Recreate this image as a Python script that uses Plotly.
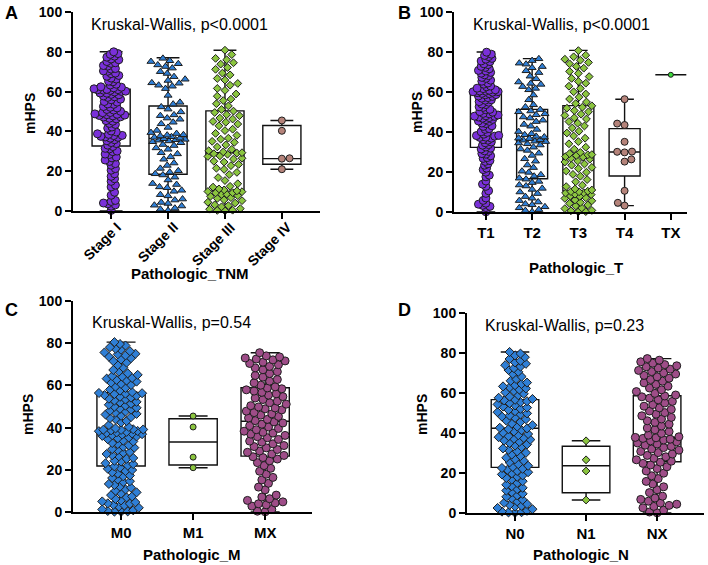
import numpy as np
import plotly.graph_objects as go

W, H = 708, 565
FONT = "Liberation Sans, Arial, sans-serif"

# ---- panel A: Pathologic_TNM ----
tnm_cats = ["Stage I", "Stage II", "Stage III", "Stage IV"]
stage1 = [0.3, 2.4, 3.1, 3.6, 4.0, 4.8, 5.3, 7.9, 9.4, 12.1, 13.0, 14.9, 16.2, 17.4, 18.7, 20.5, 21.3, 23.0, 23.8, 24.9,
          25.6, 26.7, 27.1, 28.4, 28.6, 29.8, 30.1, 31.2, 31.5, 32.4,
          33.1, 33.9, 34.4, 35.3, 35.8, 36.6, 37.0, 37.2, 37.5, 37.9, 38.0, 38.5, 38.8, 39.7, 40.2, 41.6, 42.2, 43.5,
          44.0, 45.1, 45.4, 46.3, 46.6, 47.2, 47.3, 47.8, 48.0, 48.2, 48.4, 48.6,
          48.8, 49.4, 49.5, 50.1, 50.7, 51.0, 51.8, 52.1, 52.5, 53.6, 53.8, 54.7, 55.0, 55.9, 56.2, 57.1, 57.4, 57.8,
          58.4, 58.6, 59.2, 59.3, 59.8, 60.1, 60.2, 60.6, 60.7, 60.9, 61.0, 61.1,
          61.4, 61.9, 62.2, 62.4, 63.3, 63.7, 64.9, 65.2, 66.3, 66.8, 67.7, 68.1, 69.0, 69.3, 70.2, 70.4, 71.3, 71.6,
          72.8, 73.1, 74.2, 74.5, 75.1, 76.0, 76.4, 77.3, 77.8, 78.7, 79.1, 80.0]
stage2 = [0.2, 0.9, 1.4, 2.5, 2.9, 3.8, 4.3, 5.5, 6.0, 7.6, 8.2, 9.9, 10.4, 11.7, 12.1, 13.3, 13.8, 15.6, 17.0, 18.1,
          18.7, 19.5, 20.2, 21.4, 22.9, 24.1, 26.0, 27.2, 28.7, 29.3, 31.0, 31.7, 32.9, 33.4, 34.3, 34.8, 35.2, 35.6,
          35.8, 36.0, 36.3, 36.6, 37.0, 37.3, 37.7, 38.1, 38.3, 38.9, 39.4, 40.5, 42.0, 43.8, 44.6, 46.1, 46.7, 47.9,
          48.3, 49.8, 51.2, 52.3, 53.7, 54.6, 58.1, 61.5, 62.7, 63.2, 64.2, 64.4, 65.6, 66.2, 67.5, 69.1, 70.0, 71.8,
          72.6, 73.4, 74.0, 75.1, 75.5, 76.7]
stage3 = [0.1, 0.3, 0.4, 0.9, 1.2, 2.1, 2.7, 3.1, 4.0, 4.4, 5.2, 5.6, 6.3, 6.7, 7.4, 7.7, 8.3, 8.5, 9.1, 9.2, 9.7, 9.8,
          10.1, 10.6, 11.1, 12.0, 12.4, 13.7, 15.3, 16.8, 18.3, 19.4, 20.9, 21.5, 22.8, 23.4, 24.6, 25.0, 26.1, 26.5,
          27.4, 27.7, 28.5, 28.8, 29.1, 29.3, 29.7, 30.3, 31.0, 32.2, 33.2, 34.5, 35.0, 36.1, 36.6, 38.0, 39.0, 40.4,
          41.1, 42.8, 43.7, 44.6, 45.0, 46.2, 46.7, 47.9, 48.4, 49.5, 50.2, 51.0, 52.8, 53.9, 55.5, 56.2, 57.7, 58.8,
          60.6, 61.6, 63.2, 64.1, 65.8, 66.6, 68.4, 69.3, 71.2, 72.1, 73.8, 74.5, 76.0, 76.7, 78.6, 80.8]
stage4 = [45.5, 40.3, 26.3, 26.5, 21.0]
tnm_q1 = [32.7, 18.5, 10.0, 23.5]
tnm_med = [48.7, 36.5, 29.3, 26.3]
tnm_q3 = [61.2, 52.8, 50.3, 43.0]
tnm_lo = [0.0, 0.0, 0.0, 21.0]
tnm_hi = [80.0, 77.0, 80.8, 45.5]

# ---- panel B: Pathologic_T ----
t_cats = ["T1", "T2", "T3", "T4", "TX"]
t1 = [0.1, 2.2, 2.8, 3.3, 3.9, 4.4, 5.8, 7.0, 9.3, 10.6, 12.8, 13.9, 15.5, 17.6, 18.4, 19.9, 21.2, 21.9, 23.4, 24.1,
      25.3, 25.7, 26.8, 27.2, 28.1, 28.9, 29.2, 30.3, 30.6, 31.5, 31.9,
      32.5, 33.4, 33.7, 34.6, 35.0, 35.9, 36.2, 36.9, 37.3, 37.4, 37.9, 38.2, 38.3, 38.9, 39.8, 40.1, 41.3, 41.7,
      42.8, 43.1, 44.2, 44.5, 45.3, 45.5, 46.2, 46.3, 46.9, 47.2, 47.5, 47.8, 47.9,
      48.1, 48.5, 49.1, 49.3, 49.9, 50.2, 51.1, 51.3, 52.3, 52.6, 53.7, 54.0, 54.9, 55.2, 55.9, 56.1, 56.9, 57.2,
      57.8, 58.0, 58.6, 58.7, 59.2, 59.3, 59.7, 59.9, 60.1, 60.2, 60.4, 60.5,
      60.9, 61.1, 61.7, 61.9, 62.6, 63.0, 63.9, 64.5, 65.4, 65.9, 66.8, 67.3, 68.2, 68.6, 69.4, 69.8, 70.5, 70.8,
      71.6, 72.3, 72.8, 73.7, 74.1, 75.2, 75.5, 76.4, 76.8, 77.7, 78.3, 78.9, 79.9]
t2 = [0.1, 0.7, 1.2, 2.1, 2.6, 3.6, 4.0, 5.0, 5.7, 6.9, 7.7, 9.2, 10.0, 11.3, 11.8, 13.0, 13.5, 14.7, 15.3, 16.4,
      16.9, 17.9, 18.6, 19.8, 20.4, 22.2, 23.5, 25.4, 26.6, 28.3, 29.4, 30.8, 31.5, 32.4, 33.5, 34.1, 34.5, 35.2,
      35.4, 35.9, 36.1, 36.7, 36.9, 37.5, 37.8, 38.6, 39.1, 40.2, 41.3, 42.9, 43.8, 45.2, 45.9, 47.0, 47.5, 48.6,
      49.1, 50.1, 50.5, 51.2, 52.5, 53.6, 56.1, 58.5, 61.1, 61.8, 62.7, 63.8, 64.3, 65.0, 66.6, 67.9, 69.7, 70.6,
      72.1, 72.7, 73.9, 74.4, 75.7, 76.6]
t3 = [0.1, 0.2, 0.6, 0.8, 1.7, 2.0, 3.0, 3.5, 4.3, 4.8, 5.6, 6.0, 6.8, 7.1, 7.8, 8.0, 8.7, 8.9, 9.5, 9.6, 10.1,
      10.2, 10.4, 11.0, 11.5, 12.7, 13.4, 15.1, 16.2, 17.9, 18.8, 19.9, 20.5, 21.7, 22.3, 23.4, 24.0, 25.0, 25.5,
      26.4, 26.8, 27.5, 27.7, 28.3, 28.6, 28.7, 29.2, 29.8, 31.4, 32.4, 34.1, 35.2, 36.9, 38.0, 39.5, 40.4, 42.0,
      43.0, 44.4, 45.2, 46.5, 47.1, 48.3, 48.9, 50.1, 50.7, 51.9, 52.4, 53.1, 54.2, 55.0, 56.5, 57.4, 59.0, 60.1,
      61.8, 62.9, 64.4, 65.3, 66.8, 67.7, 69.3, 70.3, 71.9, 72.8, 74.1, 74.8, 75.9, 76.4, 77.6, 78.4, 80.7]
t4 = [56.4, 44.2, 43.5, 35.1, 30.2, 30.1, 29.8, 26.3, 25.2, 10.6, 4.6, 3.2]
tx = [68.6]
t_q1 = [32.3, 16.6, 10.5, 18.0, 68.6]
t_med = [48.0, 36.0, 28.8, 30.0, 68.6]
t_q3 = [60.6, 51.3, 53.2, 41.7, 68.6]
t_lo = [0.0, 0.0, 0.0, 3.2, 68.6]
t_hi = [80.0, 76.7, 80.8, 56.4, 68.6]

# ---- panel C: Pathologic_M ----
m_cats = ["M0", "M1", "MX"]
m0 = [0.1, 0.2, 0.3, 0.5, 0.8, 1.2, 2.0, 2.6, 3.1, 3.4, 3.9, 4.1, 4.6, 5.0, 5.5, 6.2, 6.9, 7.4, 8.0, 8.7, 9.3,
      10.1, 10.7, 11.5, 12.0, 12.8, 13.3, 14.2, 14.6, 15.4, 16.1, 16.9, 17.3, 18.2, 18.8, 19.4, 19.9, 20.5, 21.0,
      21.6, 22.0, 22.7, 23.1, 23.9, 24.3, 25.2, 25.6, 26.4, 26.9, 27.5, 28.1, 28.4, 29.3, 29.8, 30.5, 30.9, 31.6,
      32.2, 32.7, 33.4, 33.8, 34.5, 34.9, 35.3, 35.8, 36.1, 36.4, 36.7, 36.9, 37.2, 37.5, 37.7, 38.0, 38.3, 38.4,
      38.7, 38.9, 39.0, 39.1, 39.2, 39.6, 40.3, 41.2, 42.4, 43.1, 43.9, 44.5, 45.0, 45.6, 46.2, 46.5, 47.1, 47.6,
      48.0, 48.5, 48.9, 49.4, 49.9, 50.4, 50.8, 51.3, 51.9, 52.2, 52.8, 53.3, 53.7, 54.2, 54.6, 55.1, 55.4, 55.9,
      56.1, 56.3, 56.4, 56.8, 57.5, 58.0, 58.8, 59.4, 60.2, 60.7, 61.3, 61.8, 62.3, 62.6, 63.2, 63.5, 64.1, 64.4,
      65.0, 65.7, 66.5, 67.3, 68.4, 69.6, 70.8, 71.5, 72.3, 72.9, 73.6, 74.2, 74.7, 75.0, 75.6, 76.2, 76.9, 77.4,
      78.1, 78.9, 79.6, 80.5]
m1 = [45.5, 40.3, 26.0, 21.0]
mx = [0.1, 0.4, 1.2, 2.8, 3.4, 3.9, 4.3, 4.8, 5.5, 6.3, 7.1, 8.0, 10.5, 11.8, 13.6, 15.2, 16.4, 17.9, 19.3, 20.7,
      22.0, 23.4, 24.3, 25.1, 25.8, 26.2, 26.8, 27.5, 28.3, 28.9, 29.6, 30.4, 31.0, 31.5, 32.3, 33.1, 33.6, 34.4,
      35.2, 35.7, 36.3, 36.9, 37.4, 37.8, 38.3, 39.0, 39.6, 40.3, 40.9, 41.6, 42.2, 42.7, 43.3, 43.9, 44.6, 45.3,
      45.9, 46.5, 47.1, 47.8, 48.4, 48.9, 49.3, 49.8, 50.4, 51.1, 51.8, 52.5, 53.3, 54.0, 54.7, 55.4, 56.0, 56.7,
      57.3, 57.9, 58.4, 58.8, 59.3, 60.1, 61.2, 62.0, 62.8, 63.9, 64.7, 65.6, 66.5, 67.4, 68.3, 69.0, 69.8, 70.4,
      71.0, 71.6, 72.1, 72.5, 73.0, 73.5, 74.0, 75.5]
m_q1 = [21.8, 22.3, 26.5]
m_med = [39.3, 33.2, 43.0]
m_q3 = [56.5, 44.2, 58.9]
m_lo = [0.0, 21.0, 0.0]
m_hi = [80.5, 45.5, 75.5]

# ---- panel D: Pathologic_N ----
n_cats = ["N0", "N1", "NX"]
n0 = [0.1, 0.3, 0.4, 0.7, 1.1, 1.9, 2.5, 3.2, 3.6, 4.1, 4.5, 5.1, 5.8, 6.6, 7.3, 8.1, 8.8, 9.6, 10.4, 11.2, 11.9,
      12.6, 13.4, 14.1, 15.0, 15.9, 16.7, 17.5, 18.1, 18.8, 19.3, 19.8, 20.4, 21.0, 21.6, 22.1, 22.5, 23.0, 23.6,
      24.4, 25.3, 26.1, 26.9, 27.6, 28.5, 29.2, 30.1, 30.8, 31.6, 32.3, 33.0, 33.7, 34.3, 35.0, 35.6, 36.2, 36.7,
      37.1, 37.5, 37.9, 38.4, 38.9, 39.5, 40.1, 40.8, 41.4, 41.9, 42.3, 42.6, 43.2, 43.9, 44.7, 45.5, 46.2, 46.9,
      47.6, 48.2, 48.7, 49.3, 49.8, 50.4, 50.9, 51.5, 52.1, 52.7, 53.2, 53.8, 54.3, 54.9, 55.4, 55.9, 56.3, 56.6,
      57.0, 57.6, 58.2, 58.9, 59.6, 60.4, 61.0, 61.7, 62.3, 62.8, 63.3, 63.9, 64.5, 65.2, 66.1, 67.0, 68.2, 69.5,
      70.6, 71.5, 72.4, 73.2, 73.9, 74.6, 75.3, 76.1, 77.0, 77.9, 78.8, 79.7, 80.5]
n1 = [36.1, 26.6, 21.0, 6.5]
nx = [0.1, 0.5, 1.4, 2.6, 3.3, 3.8, 4.4, 5.0, 5.9, 6.8, 7.5, 8.4, 10.2, 11.6, 13.1, 14.5, 15.8, 17.2, 18.6, 19.9,
      21.0, 22.2, 23.1, 24.0, 24.8, 25.4, 25.9, 26.6, 27.4, 28.1, 28.8, 29.5, 30.2, 30.8, 31.4, 32.0, 32.7, 33.3,
      33.9, 34.5, 35.0, 35.6, 36.1, 36.5, 36.9, 37.3, 37.6, 37.8, 38.1, 38.9, 39.8, 40.7, 41.6, 42.5, 43.5, 44.4,
      45.3, 46.1, 47.0, 47.8, 48.6, 49.4, 50.2, 51.0, 51.8, 52.6, 53.4, 54.2, 55.0, 55.8, 56.6, 57.4, 58.1, 58.5,
      59.0, 59.8, 60.7, 61.6, 62.5, 63.4, 64.3, 65.1, 65.9, 66.7, 67.4, 68.1, 68.8, 69.5, 70.1, 70.7, 71.3, 71.9,
      72.5, 73.1, 73.6, 74.2, 74.9, 75.6, 76.4, 77.2]
n_q1 = [22.8, 10.1, 25.6]
n_med = [42.4, 23.6, 37.9]
n_q3 = [56.7, 33.4, 58.6]
n_lo = [0.0, 6.5, 0.0]
n_hi = [80.5, 36.1, 77.2]

PURPLE, BLUE, GREEN, BROWN, MAUVE, LIME = "#7a30d9", "#2f7fd6", "#8bc53f", "#b5837a", "#9e4d88", "#3ddc3d"


def px_x(v):
    return v / W


def px_y(v):
    return 1 - v / H


def swarm(vals, ppu, dist_min, cap):
    """simple beeswarm: horizontal pixel offsets, closest to the centre that keep dist_min"""
    vals = np.asarray(vals, float)
    grid = np.linspace(-cap, cap, 41)
    grid = grid[np.argsort(np.abs(grid), kind="stable")]
    xs = np.zeros(len(vals))
    placed = []
    for n, i in enumerate(np.argsort(vals, kind="stable")):
        y = vals[i] * ppu
        near = np.array([p for p in placed if abs(p[1] - y) < dist_min]).reshape(-1, 2)
        g = grid if n % 2 else -grid
        if len(near) == 0:
            best = 0.0
        else:
            dist = np.sqrt((g[:, None] - near[None, :, 0]) ** 2 + (y - near[None, :, 1]) ** 2).min(axis=1)
            ok = np.where(dist >= dist_min)[0]
            best = g[ok[0]] if len(ok) else g[np.argmax(dist)]
        xs[i] = best
        placed.append((best, y))
    return xs


# gap = minimum centre distance in px used by the swarm
panels = [
    dict(cats=tnm_cats, groups=[stage1, stage2, stage3, stage4],
         sym=["circle", "triangle-up", "diamond", "circle"], col=[PURPLE, BLUE, GREEN, BROWN],
         size=[8, 7, 6, 7], gap=[4.0, 7.0, 7.2, 7.0], stats=(tnm_q1, tnm_med, tnm_q3, tnm_lo, tnm_hi),
         x0=73, x1=320, yt=12, yb=211, rng=[-0.67, 3.67], step=57, angle=-45,
         title="Kruskal-Wallis, p&lt;0.0001", tpos=(89, 25), letter="A", lpos=(3, 13),
         xtitle="Pathologic_TNM", xtpos=(190, 273), ytpos=(30, 114)),
    dict(cats=t_cats, groups=[t1, t2, t3, t4, tx],
         sym=["circle", "triangle-up", "diamond", "circle", "circle"], col=[PURPLE, BLUE, GREEN, BROWN, LIME],
         size=[8, 7, 6, 7, 5], gap=[3.6, 6.6, 7.2, 7.0, 5.0], stats=(t_q1, t_med, t_q3, t_lo, t_hi),
         x0=454, x1=687, yt=12, yb=212, rng=[-0.69, 4.35], step=46.25, angle=0,
         title="Kruskal-Wallis, p&lt;0.0001", tpos=(471, 25), letter="B", lpos=(396, 13),
         xtitle="Pathologic_T", xtpos=(576, 267), ytpos=(417, 113)),
    dict(cats=m_cats, groups=[m0, m1, mx],
         sym=["diamond", "circle", "circle"], col=[BLUE, GREEN, MAUVE],
         size=[7, 6, 8], gap=[5.6, 6.0, 7.0], stats=(m_q1, m_med, m_q3, m_lo, m_hi),
         x0=73, x1=312, yt=301, yb=512, rng=[-0.667, 2.65], step=72, angle=0,
         title="Kruskal-Wallis, p=0.54", tpos=(90, 322), letter="C", lpos=(3, 310),
         xtitle="Pathologic_M", xtpos=(192, 554), ytpos=(28, 415)),
    dict(cats=n_cats, groups=[n0, n1, nx],
         sym=["diamond", "diamond", "circle"], col=[BLUE, GREEN, MAUVE],
         size=[7, 6, 8], gap=[5.6, 7.0, 7.0], stats=(n_q1, n_med, n_q3, n_lo, n_hi),
         x0=467, x1=704, yt=313, yb=513, rng=[-0.676, 2.66], step=71, angle=0,
         title="Kruskal-Wallis, p=0.23", tpos=(483, 325), letter="D", lpos=(396, 310),
         xtitle="Pathologic_N", xtpos=(581, 554), ytpos=(422, 415)),
]

fig = go.Figure()
annotations = []
layout = {}
for k, p in enumerate(panels, start=1):
    sx = "" if k == 1 else str(k)
    xa, ya = "x" + sx, "y" + sx
    ppu = (p["yb"] - p["yt"]) / 100.0
    box_w = 0.67
    q1, med, q3, lo, hi = p["stats"]
    for i in range(len(p["cats"])):
        fig.add_trace(go.Box(
            x=[i], q1=[q1[i]], median=[med[i]], q3=[q3[i]], lowerfence=[lo[i]], upperfence=[hi[i]],
            width=box_w, whiskerwidth=0.6, boxpoints=False, orientation="v",
            line=dict(color="#111111", width=1.4), fillcolor="rgba(255,255,255,0)",
            showlegend=False, hoverinfo="skip", xaxis=xa, yaxis=ya))
    for i, vals in enumerate(p["groups"]):
        cap = box_w * p["step"] / 2 - 2
        off = swarm(vals, ppu, p["gap"][i], cap) / p["step"]
        fig.add_trace(go.Scatter(
            x=i + off, y=vals, mode="markers", cliponaxis=False, showlegend=False,
            marker=dict(symbol=p["sym"][i], size=p["size"][i], color=p["col"][i],
                        line=dict(color="#1e1e1e", width=1)),
            xaxis=xa, yaxis=ya))
    rotated = p["angle"] != 0
    layout["xaxis" + sx] = dict(
        domain=[px_x(p["x0"]), px_x(p["x1"])], range=p["rng"], anchor=ya, automargin=False,
        tickvals=list(range(len(p["cats"]))), ticktext=p["cats"], showticklabels=not rotated,
        showline=True, linecolor="black", linewidth=2, ticks="outside", ticklen=6, tickwidth=2,
        tickcolor="black", showgrid=False, zeroline=False,
        tickfont=dict(family=FONT, size=15, color="black", weight="bold"))
    layout["yaxis" + sx] = dict(
        domain=[px_y(p["yb"]), px_y(p["yt"])], range=[0, 100], anchor=xa, automargin=False,
        tickvals=[0, 20, 40, 60, 80, 100], showline=True, linecolor="black", linewidth=2,
        ticks="outside", ticklen=6, tickwidth=2, tickcolor="black", showgrid=False, zeroline=False,
        tickfont=dict(family=FONT, size=14, color="black", weight="bold"))
    if rotated:
        # slanted category labels, top-right end placed just right of each tick
        for i, c in enumerate(p["cats"]):
            tick_px = p["x0"] + (i - p["rng"][0]) / (p["rng"][1] - p["rng"][0]) * (p["x1"] - p["x0"])
            annotations.append(dict(
                text="<b>%s</b>" % c, x=px_x(tick_px + 16), y=px_y(p["yb"] + 5), textangle=p["angle"],
                xanchor="right", yanchor="top", font=dict(family=FONT, size=14, color="black")))
    annotations += [
        dict(text=p["title"], x=px_x(p["tpos"][0]), y=px_y(p["tpos"][1]), xanchor="left", yanchor="middle",
             font=dict(family=FONT, size=16, color="black")),
        dict(text="<b>%s</b>" % p["letter"], x=px_x(p["lpos"][0]), y=px_y(p["lpos"][1]), xanchor="left",
             yanchor="middle", font=dict(family=FONT, size=18, color="black")),
        dict(text="<b>%s</b>" % p["xtitle"], x=px_x(p["xtpos"][0]), y=px_y(p["xtpos"][1]), xanchor="center",
             yanchor="middle", font=dict(family=FONT, size=15, color="black")),
        dict(text="<b>mHPS</b>", x=px_x(p["ytpos"][0]), y=px_y(p["ytpos"][1]), textangle=-90,
             xanchor="center", yanchor="middle", font=dict(family=FONT, size=14, color="black")),
    ]

for a in annotations:
    a.update(xref="paper", yref="paper", showarrow=False)

fig.update_layout(
    width=W, height=H, margin=dict(l=0, r=0, t=0, b=0, autoexpand=False),
    paper_bgcolor="white", plot_bgcolor="white",
    annotations=annotations, **layout)

# the page body has a default 8px margin; drop it so the figure sits at the window corner
fig.write_html("out.html", config={"displayModeBar": False},
               post_script="document.body.style.margin='0px';")
